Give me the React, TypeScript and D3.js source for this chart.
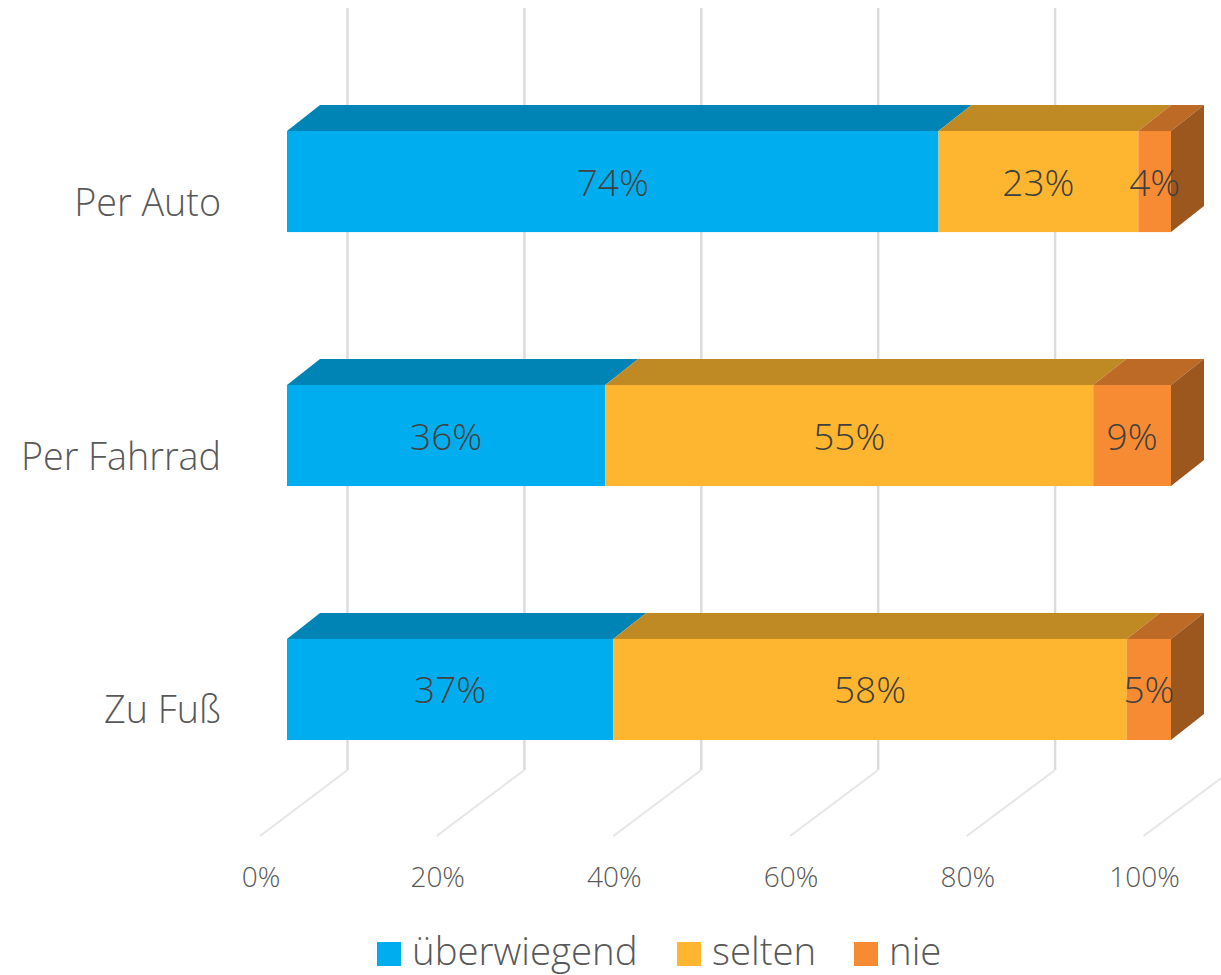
import React, { useEffect, useRef } from 'react';
import * as d3 from 'd3';

const categories = ['Per Auto', 'Per Fahrrad', 'Zu Fuß'];
const seriesNames = ['überwiegend', 'selten', 'nie'];
const ueberwiegend = [73.7, 36, 36.9];
const selten = [22.6, 55.2, 58.1];
const nie = [3.7, 8.8, 5];
const ticks = [0, 20, 40, 60, 80, 100];

const colors = ['#00aeef', '#feb52f', '#f68b33'];
const topColors = ['#0084b5', '#bf8a23', '#bc6a26'];
const sideColor = '#9c571e';
const font = '"Open Sans", sans-serif';

export default function App() {
  const ref = useRef<SVGSVGElement>(null);

  useEffect(() => {
    const svg = d3.select(ref.current);
    svg.selectAll('*').remove();

    const x = d3.scaleLinear().domain([0, 100]).range([287, 1171]);
    const y = d3.scaleBand().domain(categories).range([131, 740]).paddingInner(0.602);
    const barDx = 33, barDy = -26;

    // back wall and floor of the 3d box
    const wallX = d3.scaleLinear().domain([0, 100]).range([347.5, 1232]);
    const floorX = d3.scaleLinear().domain([0, 100]).range([260, 1143.5]);

    const grid = svg.append('g');
    grid.selectAll('line.wall').data(ticks.slice(0, 5)).enter().append('line')
      .attr('class', 'wall')
      .attr('x1', d => wallX(d)).attr('x2', d => wallX(d))
      .attr('y1', 8).attr('y2', 770)
      .attr('stroke', '#dcdcdc').attr('stroke-width', 2.5);
    grid.selectAll('line.floor').data(ticks).enter().append('line')
      .attr('class', 'floor')
      .attr('x1', d => wallX(d)).attr('x2', d => floorX(d))
      .attr('y1', 770).attr('y2', 836)
      .attr('stroke', '#e6e6e6').attr('stroke-width', 2);

    const rows = categories.map((c, i) => ({
      category: c,
      [seriesNames[0]]: ueberwiegend[i],
      [seriesNames[1]]: selten[i],
      [seriesNames[2]]: nie[i]
    }));
    const stacked = d3.stack().keys(seriesNames)(rows as any);

    const poly = d3.line();
    const bars = svg.append('g');
    stacked.forEach((layer, s) => {
      layer.forEach((d: any) => {
        const cat = d.data.category;
        const x0 = x(d[0]), x1 = x(d[1]);
        const top = y(cat)!, h = y.bandwidth();
        bars.append('path')
          .attr('d', poly([[x0, top], [x1, top], [x1 + barDx, top + barDy], [x0 + barDx, top + barDy]]) + 'Z')
          .attr('fill', topColors[s]);
        bars.append('rect')
          .attr('x', x0).attr('y', top).attr('width', x1 - x0).attr('height', h)
          .attr('fill', colors[s]);
        if (s === seriesNames.length - 1) {
          bars.append('path')
            .attr('d', poly([[x1, top], [x1 + barDx, top + barDy], [x1 + barDx, top + barDy + h], [x1, top + h]]) + 'Z')
            .attr('fill', sideColor);
        }
      });
    });

    // data labels go on top of everything
    stacked.forEach(layer => {
      layer.forEach((d: any) => {
        svg.append('text')
          .attr('x', (x(d[0]) + x(d[1])) / 2)
          .attr('y', y(d.data.category)! + y.bandwidth() / 2 + 14)
          .attr('text-anchor', 'middle')
          .attr('font-family', font).attr('font-weight', 300)
          .attr('font-size', 37).attr('fill', '#404040')
          .text(Math.round(d[1] - d[0]) + '%');
      });
    });

    svg.selectAll('text.cat').data(categories).enter().append('text')
      .attr('class', 'cat')
      .attr('x', 221)
      .attr('y', d => y(d)! + y.bandwidth() / 2 + 34)
      .attr('text-anchor', 'end')
      .attr('font-family', font).attr('font-weight', 300)
      .attr('font-size', 37.7).attr('fill', '#595959')
      .text(d => d);

    svg.selectAll('text.tick').data(ticks).enter().append('text')
      .attr('class', 'tick')
      .attr('x', d => floorX(d) + 1)
      .attr('y', 887)
      .attr('text-anchor', 'middle')
      .attr('font-family', font).attr('font-weight', 300)
      .attr('font-size', 28).attr('fill', '#595959')
      .text(d => d + '%');

    const legendX = [377, 677, 854];
    const legend = svg.selectAll('g.legend').data(seriesNames).enter().append('g')
      .attr('class', 'legend')
      .attr('transform', (d, i) => `translate(${legendX[i]},942)`);
    legend.append('rect')
      .attr('width', 24).attr('height', 24)
      .attr('fill', (d, i) => colors[i]);
    legend.append('text')
      .attr('x', 35).attr('y', 22.5)
      .attr('font-family', font).attr('font-weight', 300)
      .attr('font-size', 38.4).attr('fill', '#595959')
      .text(d => d);
  }, []);

  return (
    <svg
      ref={ref}
      width={1221}
      height={975}
      style={{ position: 'absolute', left: 0, top: 0, background: '#fff' }}
    />
  );
}
